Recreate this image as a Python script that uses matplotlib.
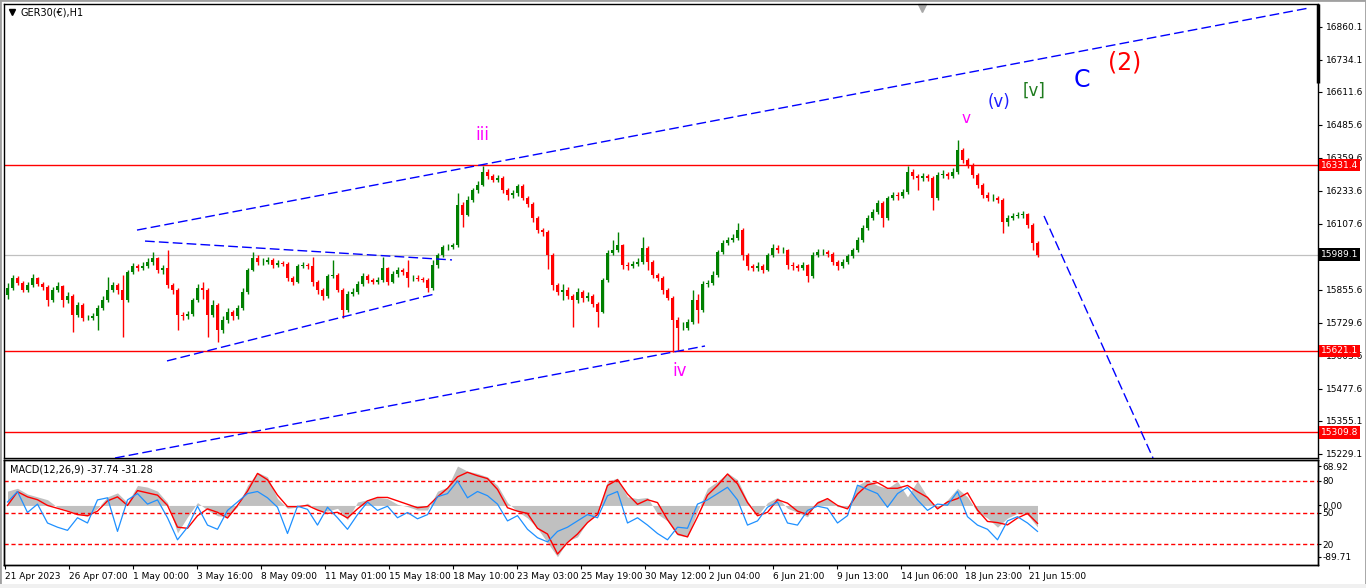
import numpy as np
import matplotlib
matplotlib.use("Agg")
import matplotlib.pyplot as plt
import matplotlib.transforms as mtransforms
from matplotlib.patches import Rectangle

plt.rcParams['font.family'] = ['DejaVu Sans']

# ---------------- data ----------------
symbol = "GER30(€),H1"
macd_title = "MACD(12,26,9) -37.74 -31.28"

# price bars (each bar ~ 5 hourly bars of the original chart)
first_open = 15835
closes = [15862, 15900, 15881, 15854, 15873, 15900, 15877, 15866, 15816, 15854,
          15869, 15816, 15831, 15759, 15797, 15747, 15747, 15755, 15785, 15816,
          15854, 15873, 15854, 15816, 15923, 15946, 15938, 15946, 15961, 15976,
          15931, 15938, 15873, 15854, 15759, 15755, 15762, 15816, 15862, 15854,
          15759, 15797, 15701, 15740, 15770, 15755, 15785, 15847, 15931, 15976,
          15961, 15961, 15969, 15950, 15957, 15954, 15900, 15885, 15946, 15950,
          15946, 15885, 15854, 15831, 15908, 15912, 15854, 15778, 15839, 15847,
          15877, 15908, 15892, 15885, 15892, 15938, 15885, 15915, 15931, 15923,
          15900, 15900, 15896, 15892, 15862, 15950, 15988, 16018, 16018, 16026,
          16179, 16141, 16198, 16236, 16255, 16305, 16290, 16274, 16282, 16236,
          16217, 16225, 16251, 16206, 16183, 16129, 16083, 16076, 15988, 15873,
          15847, 15854, 15831, 15816, 15847, 15824, 15831, 15801, 15770, 15892,
          15996, 16007, 16026, 15950, 15946, 15954, 15961, 16015, 15961, 15912,
          15900, 15854, 15824, 15740, 15709, 15709, 15732, 15816, 15778, 15877,
          15881, 15912, 15999, 16034, 16045, 16053, 16083, 15988, 15946, 15938,
          15946, 15931, 15988, 16015, 16007, 16007, 15950, 15946, 15938, 15950,
          15908, 15988, 15999, 15999, 15992, 15961, 15946, 15961, 15984, 16007,
          16045, 16091, 16129, 16152, 16187, 16129, 16206, 16217, 16213, 16229,
          16305, 16290, 16282, 16290, 16282, 16206, 16294, 16297, 16290, 16305,
          16389, 16351, 16332, 16294, 16255, 16217, 16206, 16206, 16198, 16114,
          16129, 16137, 16141, 16145, 16102, 16034, 15989]
highs = [15880, 15912, 15908, 15890, 15885, 15915, 15905, 15885, 15872, 15865,
         15885, 15875, 15845, 15838, 15808, 15805, 15760, 15768, 15795, 15830,
         15904, 15885, 15880, 15912, 15930, 15957, 15955, 15960, 15975, 15999,
         15982, 15950, 16007, 15880, 15862, 15770, 15775, 15825, 15877, 15885,
         15862, 15815, 15805, 15755, 15785, 15778, 15797, 15860, 15940, 15999,
         15988, 15975, 15980, 15975, 15969, 15965, 15960, 15908, 15955, 15960,
         15958, 15980, 15892, 15860, 15915, 15969, 15918, 15860, 15850, 15860,
         15890, 15920, 15915, 15900, 15905, 15980, 15942, 15925, 15942, 15940,
         15969, 15912, 15910, 15905, 15898, 15969, 15996, 16026, 16030, 16035,
         16225, 16190, 16213, 16245, 16270, 16328, 16315, 16298, 16294, 16288,
         16245, 16236, 16258, 16258, 16213, 16190, 16135, 16091, 16083, 15996,
         15880, 15877, 15866, 15840, 15860, 15855, 15845, 15840, 15810, 15900,
         16005, 16045, 16076, 16030, 15960, 15965, 15975, 16057, 16022, 15968,
         15920, 15906, 15860, 15830, 15750, 15730, 15745, 15854, 15840, 15890,
         15892, 15925, 16007, 16045, 16057, 16068, 16110, 16090, 15996, 15955,
         15960, 15955, 15996, 16030, 16026, 16020, 16012, 15960, 15955, 15962,
         15955, 15999, 16010, 16012, 16005, 15999, 15969, 15972, 15992, 16015,
         16057, 16102, 16140, 16165, 16198, 16195, 16215, 16230, 16228, 16240,
         16328, 16315, 16298, 16300, 16298, 16290, 16305, 16313, 16305, 16320,
         16427, 16395, 16360, 16340, 16300, 16262, 16228, 16220, 16215, 16205,
         16140, 16148, 16152, 16155, 16150, 16110, 16040]
lows = [15820, 15855, 15872, 15845, 15845, 15866, 15868, 15855, 15792, 15808,
        15846, 15790, 15805, 15694, 15750, 15735, 15738, 15740, 15701, 15778,
        15810, 15846, 15840, 15675, 15810, 15915, 15928, 15930, 15938, 15950,
        15920, 15915, 15860, 15840, 15701, 15740, 15745, 15755, 15808, 15820,
        15675, 15750, 15656, 15690, 15728, 15740, 15745, 15778, 15840, 15925,
        15950, 15950, 15955, 15940, 15942, 15945, 15890, 15873, 15880, 15938,
        15935, 15870, 15840, 15816, 15825, 15900, 15845, 15747, 15770, 15830,
        15840, 15870, 15880, 15877, 15878, 15885, 15875, 15880, 15905, 15912,
        15866, 15890, 15888, 15885, 15847, 15855, 15940, 15980, 16007, 16010,
        16020, 16095, 16135, 16190, 16225, 16250, 16280, 16265, 16265, 16225,
        16198, 16205, 16215, 16198, 16170, 16115, 16072, 16060, 15935, 15854,
        15835, 15816, 15820, 15713, 15805, 15810, 15812, 15790, 15713, 15765,
        15885, 15988, 16000, 15935, 15931, 15938, 15945, 15955, 15930, 15900,
        15890, 15840, 15816, 15617, 15625, 15700, 15700, 15725, 15728, 15770,
        15866, 15875, 15905, 15990, 16025, 16038, 16045, 15969, 15931, 15925,
        15928, 15920, 15925, 15980, 15996, 15996, 15935, 15931, 15925, 15930,
        15885, 15900, 15980, 15988, 15980, 15950, 15931, 15940, 15955, 15976,
        16000, 16038, 16083, 16122, 16145, 16095, 16122, 16198, 16198, 16205,
        16222, 16280, 16236, 16270, 16270, 16160, 16198, 16282, 16278, 16282,
        16298, 16340, 16320, 16282, 16245, 16206, 16195, 16195, 16185, 16072,
        16100, 16120, 16128, 16130, 16091, 16007, 15980]

# MACD panel, sampled every second bar
macd_hist = [25, 30, 20, 15, 10, -3, -8, -15, -19, -5,
             15, 22, 5, 35, 32, 25, 5, -48, -20, 5,
             -8, -18, -20, -2, 35, 58, 50, 12, -5, -3,
             4, -8, -10, -5, -25, 6, 10, 14, 12, 2,
             -2, -8, -8, 25, 32, 68.92, 60, 56, 50, 35,
             5, -10, -22, -40, -65, -89.71, -62, -55, -28, -15,
             42, 48, 15, 12, 14, -15, -27, -52, -55, -10,
             30, 42, 57, 45, 8, -18, 5, 14, -5, -12,
             -20, 8, 12, -2, -4, 35, 45, 35, 30, 42,
             15, 43, 15, -6, 10, 30, 15, -12, -22, -38,
             -22, -14, -16, -37.74]
macd_signal = [0, 24, 15, 10, 0, -5, -10, -16, -18, -10,
               8, 15, 0, 26, 22, 18, 0, -38, -40, -18,
               -6, -12, -22, 0, 25, 56, 45, 18, -2, -2,
               0, -8, -14, -12, -22, -6, 8, 14, 14, 8,
               2, -4, -2, 15, 30, 50, 58, 52, 47, 28,
               -4, -10, -14, -40, -50, -85, -65, -50, -30, -16,
               35, 45, 20, 2, 10, 5, -25, -50, -55, -20,
               18, 35, 55, 38, 5, -18, -12, 10, 4, -10,
               -16, 4, 12, 0, -6, 20, 36, 40, 30, 30,
               35, 24, 14, -6, 6, 12, 22, -8, -28, -30,
               -34, -22, -14, -31.28]
osc_line = [60, 70, 50, 58, 40, 36, 33, 45, 40, 62,
            64, 32, 62, 68, 58, 62, 45, 24, 36, 56,
            38, 34, 52, 60, 68, 70, 64, 55, 30, 56,
            53, 38, 55, 45, 34, 48, 60, 52, 56, 45,
            50, 44, 48, 65, 68, 80, 64, 70, 66, 58,
            42, 47, 34, 26, 22, 32, 36, 42, 48, 45,
            66, 70, 40, 45, 38, 30, 24, 36, 35, 58,
            62, 68, 74, 62, 38, 42, 55, 60, 40, 38,
            52, 56, 54, 40, 47, 76, 72, 68, 55, 68,
            74, 62, 52, 58, 57, 70, 46, 38, 34, 24,
            42, 46, 40, 32]
osc_levels = [80, 50, 20]

price_ticks = [16860.1, 16734.1, 16611.6, 16485.6, 16359.6, 16233.6, 16107.6,
               15855.6, 15729.6, 15603.6, 15477.6, 15355.1, 15229.1]
red_levels = [16331.4, 15621.1, 15309.8]
last_price = 15989.1

date_labels = ["21 Apr 2023", "26 Apr 07:00", "1 May 00:00", "3 May 16:00",
               "8 May 09:00", "11 May 01:00", "15 May 18:00", "18 May 10:00",
               "23 May 03:00", "25 May 19:00", "30 May 12:00", "2 Jun 04:00",
               "6 Jun 21:00", "9 Jun 13:00", "14 Jun 06:00", "18 Jun 23:00",
               "21 Jun 15:00"]
date_pos = [-0.5, 12.3, 25.1, 37.9, 50.7, 63.5, 76.3, 89.1, 101.9, 114.7,
            127.5, 140.3, 153.1, 165.9, 178.7, 191.5, 204.3]

# trend lines: (bar0, price0, bar1, price1)
trend_lines = [(25.9, 16083, 260.1, 16931),
               (21.5, 15212, 139.5, 15640),
               (27.5, 16041, 88.9, 15969),
               (31.9, 15583, 85.5, 15839),
               (207.3, 16137, 229.1, 15212)]

# wave labels: (text, bar, price)
wave_labels = [("iii", 94.9, 16446), ("iv", 134.5, 15545), ("v", 191.7, 16511),
               ("(v)", 198.3, 16572), ("[v]", 205.3, 16614), ("C", 214.9, 16656),
               ("(2)", 223.5, 16725)]
wave_colors = ['#FF00FF', '#FF00FF', '#FF00FF', '#1E1EFF', '#1E7B1E', '#0000FF', '#FF0000']
wave_sizes = [12, 12, 11, 12, 12, 17, 17]

# ---------------- figure ----------------
W, H = 1366, 588
fig = plt.figure(figsize=(W / 100, H / 100), dpi=100)
fig.patch.set_facecolor('white')


def box(l, t, r, b):
    return [l / W, 1 - b / H, (r - l) / W, (b - t) / H]


ax = fig.add_axes(box(4, 4, 1318, 458))
axm = fig.add_axes(box(4, 460, 1318, 565))
xlim = (-0.7, 262.1)

# candles
o = np.array([first_open] + closes[:-1], dtype=float)
c = np.array(closes, dtype=float)
x = np.arange(len(c))
col = np.where(c >= o, '#008000', '#FF0000')
ax.vlines(x, lows, highs, colors=col, lw=1.0, zorder=3)
ax.bar(x, np.abs(c - o), bottom=np.minimum(o, c), width=0.78, color=col,
       linewidth=0, zorder=3)

for p in red_levels:
    ax.axhline(p, color='#FF0000', lw=1.0, zorder=2)
ax.axhline(last_price, color='#C0C0C0', lw=0.9, zorder=2)

for b0, p0, b1, p1 in trend_lines:
    ax.plot([b0, b1], [p0, p1], color='#0000FF', lw=1.0, dashes=(7, 3), zorder=4)

for (txt, b, p), cl, sz in zip(wave_labels, wave_colors, wave_sizes):
    ax.text(b, p, txt, color=cl, fontsize=sz, ha='center', va='center', zorder=5)

ax.set_xlim(*xlim)
ax.set_ylim(15212, 16947)
ax.set_xticks([])
ax.yaxis.tick_right()
ax.set_yticks(price_ticks)
ax.set_yticklabels([f"{p:.1f}" for p in price_ticks])
ax.tick_params(axis='y', direction='out', length=3, width=0.8, pad=3, labelsize=6.5)
for s in ax.spines.values():
    s.set_linewidth(1.0)
    s.set_color('black')

# price boxes on the right scale
trans = mtransforms.blended_transform_factory(ax.transAxes, ax.transData)
for p in red_levels:
    ax.annotate(f"{p:.1f}", xy=(1, p), xycoords=trans, xytext=(2, 0),
                textcoords='offset points', ha='left', va='center', fontsize=6.5,
                color='white', annotation_clip=False, zorder=10,
                bbox=dict(boxstyle='square,pad=0.2', fc='#FF0000', ec='none'))
ax.annotate(f"{last_price:.1f}", xy=(1, last_price), xycoords=trans, xytext=(2, 0),
            textcoords='offset points', ha='left', va='center', fontsize=6.5,
            color='white', annotation_clip=False, zorder=10,
            bbox=dict(boxstyle='square,pad=0.2', fc='black', ec='none'))

# scroll marker and chart shift marker
ax.plot([1, 1], [1, 0.826], transform=ax.transAxes, color='black', lw=2.5,
        clip_on=False, solid_capstyle='butt', zorder=6)
ax.plot(0.6986, 0.992, marker='v', ms=6, color='#A8A8A8', transform=ax.transAxes,
        clip_on=False)

# title
ax.plot(0.0062, 0.982, marker='v', ms=4, color='black', transform=ax.transAxes)
ax.text(0.0125, 0.982, symbol, transform=ax.transAxes, fontsize=7, va='center')

# ---------------- MACD panel ----------------
mx = np.arange(0, len(c), 2)
axm.fill_between(mx, 0, macd_hist, color='#C0C0C0', lw=0, zorder=1)
axm.plot(mx, macd_signal, color='#FF0000', lw=1.0, zorder=3)
axm.set_ylim(-104.2, 79.5)

axs = axm.twinx()
axs.set_ylim(0, 100)
for lv in osc_levels:
    axs.axhline(lv, color='#FF0000', lw=1.0, dashes=(3, 2))
axs.plot(mx, osc_line, color='#1E90FF', lw=0.9)

axm.set_xlim(*xlim)
axs.set_xlim(*xlim)
axm.yaxis.tick_right()
axm.set_yticks([68.92, 0.0, -89.71])
axm.set_yticklabels(["68.92", "0.00", "-89.71"])
axs.set_yticks(osc_levels)
axs.set_yticklabels([str(v) for v in osc_levels])
for a in (axm, axs):
    a.tick_params(axis='y', direction='out', length=2, width=0.8, pad=1, labelsize=6.5)
axm.set_xticks(date_pos)
axm.set_xticklabels(date_labels, ha='left')
axm.tick_params(axis='x', direction='out', length=3, width=0.8, pad=2, labelsize=6.5)
for a in (axm, axs):
    for s in a.spines.values():
        s.set_linewidth(1.0)
        s.set_color('black')

axm.text(0.0046, 0.913, macd_title, transform=axm.transAxes, fontsize=7, va='center',
         zorder=6)

# outer frame
fig.patches.append(Rectangle((0, 0), 1, 1, transform=fig.transFigure, fill=False,
                             ec='#A0A0A0', lw=2))
fig.patches.append(Rectangle((0, 0), 1, 4 / H, transform=fig.transFigure,
                             fc='#F0F0F0', ec='none'))

fig.savefig("out.png", dpi=100)
